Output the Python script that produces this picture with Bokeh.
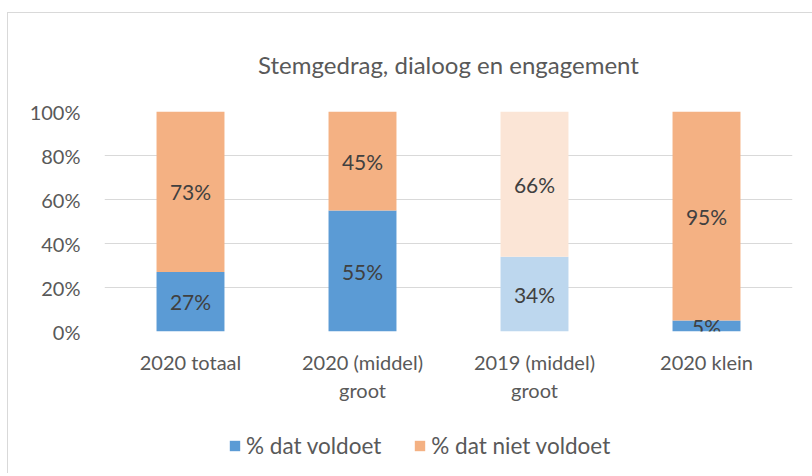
from bokeh.plotting import figure
from bokeh.layouts import column
from bokeh.models import (ColumnDataSource, FactorRange, Range1d, FixedTicker, NumeralTickFormatter,
                          Legend, LegendItem, LabelSet)
from bokeh.core.properties import value
from bokeh.embed import file_html
from bokeh.resources import INLINE

categories = ["2020 totaal", "2020 (middel)\ngroot", "2019 (middel)\ngroot", "2020 klein"]
voldoet = [27, 55, 34, 5]
niet_voldoet = [73, 45, 66, 95]
series_names = ["% dat voldoet", "% dat niet voldoet"]
title_text = "Stemgedrag, dialoog en engagement"

blue_colors = ["#5B9BD5", "#5B9BD5", "#BDD7EE", "#5B9BD5"]
orange_colors = ["#F4B183", "#F4B183", "#FBE5D6", "#F4B183"]

FONT = "Lato"
TXT = "#595959"

v = [x / 100 for x in voldoet]
n = [x / 100 for x in niet_voldoet]
src = ColumnDataSource(dict(
    cat=categories,
    v=v,
    top2=[a + b for a, b in zip(v, n)],
    mid1=[a / 2 for a in v],
    mid2=[a + b / 2 for a, b in zip(v, n)],
    lab1=[f"{x}%" for x in voldoet],
    lab2=[f"{x}%" for x in niet_voldoet],
    c1=blue_colors,
    c2=orange_colors,
))

p = figure(x_range=FactorRange(*categories), y_range=Range1d(0, 1),
           width=805, height=410, output_backend="svg", toolbar_location=None,
           min_border_left=96, min_border_right=21, min_border_top=98, min_border_bottom=92,
           title=title_text)
p.outline_line_color = None
p.background_fill_color = "white"
p.border_fill_color = "white"

p.title.align = "center"
p.title.text_font = FONT
p.title.text_font_size = "24px"
p.title.text_font_style = "normal"
p.title.text_color = TXT
p.title.standoff = 65

r1 = p.vbar(x="cat", top="v", bottom=0, width=0.395, source=src,
            fill_color="c1", line_color=None)
r2 = p.vbar(x="cat", top="top2", bottom="v", width=0.395, source=src,
            fill_color="c2", line_color=None)

for col, ycol in (("lab1", "mid1"), ("lab2", "mid2")):
    ls = LabelSet(x="cat", y=ycol, text=col, source=src, text_align="center",
                  text_baseline="middle", text_font=value(FONT), text_font_size="21px",
                  text_color="#404040")
    p.add_layout(ls)

p.xgrid.grid_line_color = None
p.ygrid.grid_line_color = "#D9D9D9"
p.ygrid.grid_line_width = 1
p.yaxis.ticker = FixedTicker(ticks=[0, 0.2, 0.4, 0.6, 0.8, 1.0])
p.yaxis.formatter = NumeralTickFormatter(format="0%")
for ax in (p.xaxis[0], p.yaxis[0]):
    ax.axis_line_color = None
    ax.major_tick_line_color = None
    ax.minor_tick_line_color = None
    ax.major_label_text_font = FONT
    ax.major_label_text_font_size = "20px"
    ax.major_label_text_color = TXT
p.yaxis.major_label_standoff = 18
p.xaxis.major_label_standoff = 12

# legend strip below the chart
leg = figure(x_range=FactorRange(*categories), y_range=Range1d(10, 11),
             width=805, height=50, output_backend="svg", toolbar_location=None,
             min_border_left=0, min_border_right=0, min_border_top=0, min_border_bottom=0)
leg.axis.visible = False
leg.grid.visible = False
leg.outline_line_color = None
lr1 = leg.vbar(x="cat", top="v", bottom=0, width=0.395, source=src, fill_color="c1", line_color=None)
lr2 = leg.vbar(x="cat", top="top2", bottom="v", width=0.395, source=src, fill_color="c2", line_color=None)
legend = Legend(items=[LegendItem(label=series_names[0], renderers=[lr1], index=0),
                       LegendItem(label=series_names[1], renderers=[lr2], index=0)],
                orientation="horizontal", location=(124, 14),
                glyph_width=13, glyph_height=13, label_standoff=5, spacing=32,
                padding=0, margin=0, border_line_color=None, background_fill_alpha=0,
                label_text_font=FONT, label_text_font_size="22.5px", label_text_color=TXT)
leg.add_layout(legend, "center")

layout = column(p, leg, spacing=0)
layout.margin = (12, 0, 0, 7)
layout.styles = {"border-top": "1px solid #D9D9D9", "border-left": "1px solid #D9D9D9"}

open("out.html", "w").write(file_html(layout, INLINE))
